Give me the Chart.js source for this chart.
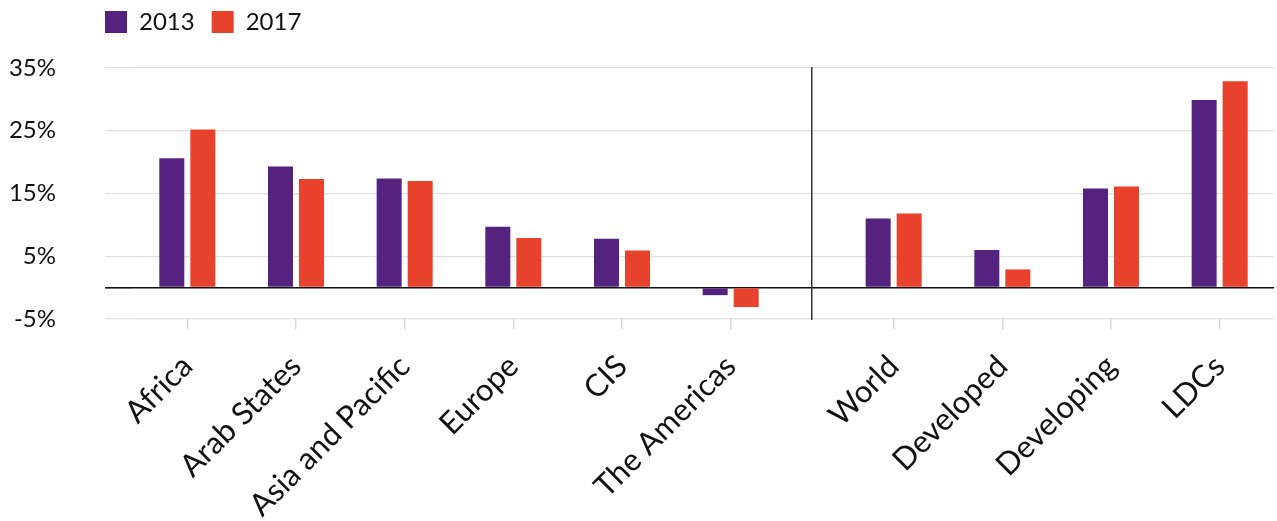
<!DOCTYPE html>
<html>
<head>
<meta charset="utf-8">
<script src="https://cdn.jsdelivr.net/npm/chart.js@4.4.1/dist/chart.umd.min.js"></script>
<style>
  html, body { margin: 0; padding: 0; background: #ffffff; }
  #wrap { position: relative; width: 1277px; height: 521px; }
</style>
</head>
<body>
<div id="wrap"><canvas id="chart"></canvas></div>
<script>
// ---- data ----
const regionLabels = ['Africa', 'Arab States', 'Asia and Pacific', 'Europe', 'CIS', 'The Americas'];
const groupLabels = ['World', 'Developed', 'Developing', 'LDCs'];
const seriesNames = ['2013', '2017'];
const region2013 = [20.6, 19.3, 17.4, 9.7, 7.8, -1.2];
const region2017 = [25.2, 17.3, 17.0, 7.9, 5.9, -3.1];
const group2013 = [11.0, 6.0, 15.8, 29.9];
const group2017 = [11.8, 2.9, 16.1, 32.9];
const yTickValues = [-5, 5, 15, 25, 35];

// ---- layout / styles ----
const GROUP_GAP = 0.5;            // extra half-slot between the two groups of categories
const PURPLE = '#56227f';
const RED = '#e8412c';
const FONT = 'Lato, "Open Sans", sans-serif';

// category index positions on the x scale (regions, gap, aggregates)
const categoryLabels = regionLabels.concat(groupLabels);
const categoryPositions = categoryLabels.map((_, i) => (i < regionLabels.length ? i : i + GROUP_GAP));
const values2013 = region2013.concat(group2013);
const values2017 = region2017.concat(group2017);
const toPoints = (vals) => vals.map((y, i) => ({ x: categoryPositions[i], y: y }));
const separatorAt = (categoryPositions[regionLabels.length - 1] + categoryPositions[regionLabels.length]) / 2;

const legendPlacement = {
  id: 'legendPlacement',
  beforeLayout(chart) {
    const lg = chart.legend;
    if (lg && !lg._fitPatched) {
      const baseFit = lg.fit;
      lg.fit = function () { baseFit.call(this); this.height += 17; };
      lg._fitPatched = true;
    }
  },
  afterLayout(chart) {
    if (chart.legend) {
      chart.legend.left += 78;
      chart.legend.top -= 7;
    }
  }
};

const barStyle = { categoryPercentage: 0.571, barPercentage: 0.806, borderWidth: 0 };

new Chart(document.getElementById('chart'), {
  type: 'bar',
  data: {
    datasets: [
      Object.assign({ label: seriesNames[0], data: toPoints(values2013), backgroundColor: PURPLE }, barStyle),
      Object.assign({ label: seriesNames[1], data: toPoints(values2017), backgroundColor: RED }, barStyle)
    ]
  },
  options: {
    responsive: true,
    maintainAspectRatio: false,
    devicePixelRatio: 1,
    animation: false,
    layout: { padding: { left: 10, right: 3, top: 0, bottom: 0 } },
    plugins: {
      tooltip: { enabled: false },
      title: { display: false },
      legend: {
        display: true, position: 'top', align: 'start',
        labels: {
          boxWidth: 22, boxHeight: 22, padding: 17, color: '#111111',
          font: { family: FONT, size: 24 }
        }
      }
    },
    scales: {
      x: {
        type: 'linear', position: 'bottom', offset: false,
        min: categoryPositions[0] - 0.5,
        max: categoryPositions[categoryPositions.length - 1] + 0.5,
        afterBuildTicks(axis) {
          axis.ticks = categoryPositions.map((v) => ({ value: v }));
        },
        afterFit(axis) {
          axis.height = 202;
          axis.paddingLeft = 0;
          axis.paddingRight = 0;
        },
        ticks: {
          autoSkip: false, minRotation: 45, maxRotation: 45, padding: 19,
          color: '#111111', font: { family: FONT, size: 31 },
          callback: (value, index) => categoryLabels[index]
        },
        grid: {
          display: true, drawOnChartArea: false, drawTicks: true, tickLength: 10,
          offset: false, color: '#d9d9d9', lineWidth: 1.5
        },
        border: { display: false }
      },
      y: {
        type: 'linear', position: 'left',
        min: yTickValues[0], max: yTickValues[yTickValues.length - 1],
        afterBuildTicks(axis) {
          axis.ticks = yTickValues.concat([0]).sort((a, b) => a - b).map((v) => ({ value: v }));
        },
        afterFit(axis) { axis.width = 123; },
        ticks: {
          padding: 49, color: '#111111', font: { family: FONT, size: 24 },
          callback: (v) => (v === 0 ? '' : v + '%')
        },
        grid: {
          drawTicks: true, tickLength: 28,
          color: (ctx) => (ctx.tick && ctx.tick.value === 0 ? '#111111' : '#e0e0e0'),
          lineWidth: (ctx) => (ctx.tick && ctx.tick.value === 0 ? 1.6 : 1.2)
        },
        border: { display: false }
      },
      ySep: {
        type: 'linear', axis: 'y', position: { x: separatorAt },
        grid: { display: false }, ticks: { display: false },
        border: { display: true, color: '#333333', width: 1.5 }
      }
    }
  },
  plugins: [legendPlacement]
});
</script>
</body>
</html>
